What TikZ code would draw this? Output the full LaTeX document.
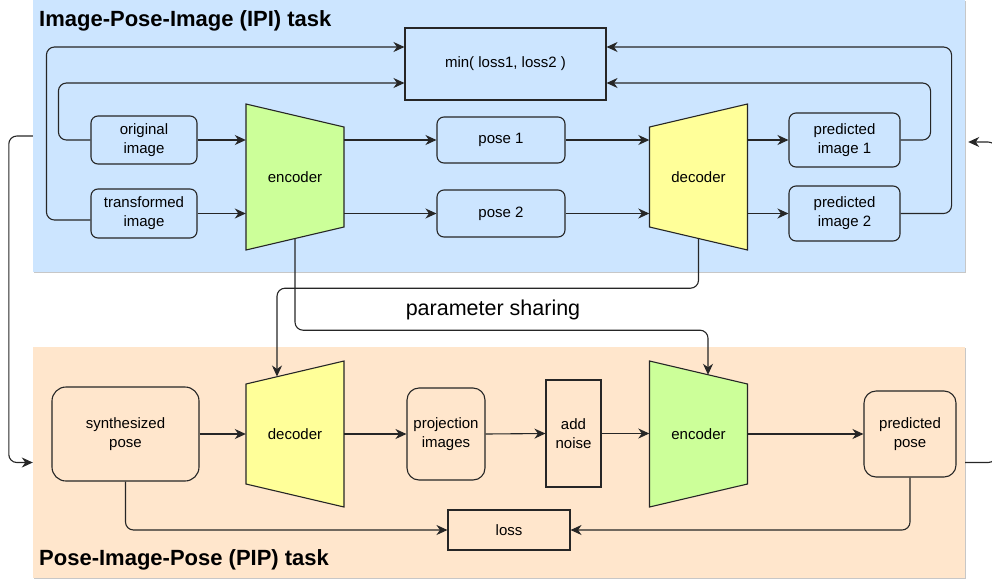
\documentclass[tikz,border=0pt]{standalone}
\usepackage{fontspec}
\setmainfont{Liberation Sans}
\usetikzlibrary{arrows.meta,calc,positioning,shadows}
\definecolor{ipiblue}{RGB}{204,229,255}
\definecolor{pippeach}{RGB}{255,230,204}
\definecolor{encgreen}{RGB}{204,255,153}
\definecolor{decyellow}{RGB}{255,255,153}
\newcommand\lblfont{\fontsize{15}{19}\selectfont}
\newcommand\titlefont{\fontsize{22}{26}\selectfont\bfseries}
\newcommand\sharefont{\fontsize{21.5}{25}\selectfont}

\begin{document}
\begin{tikzpicture}[x=1pt,y=-1pt,
  conn/.style={draw=black!85,line width=1.1pt,rounded corners=8pt,
    -{Stealth[length=11pt,width=10pt,inset=3.5pt]}},
  rbox/.style={draw=black!85,line width=1.1pt,rounded corners=7pt,
    align=center,font=\lblfont,inner sep=0pt},
  sbox/.style={rbox,sharp corners},
  trap/.style={align=center,font=\lblfont,inner sep=0pt,
    minimum width=98,minimum height=146},
  panel/.style={inner sep=0pt,
    drop shadow={shadow xshift=1.2pt,shadow yshift=-1.2pt,fill=black!22,opacity=1}},
  ]
  \useasboundingbox (0,0) rectangle (992,584);

  % the two task panels
  \node[panel,fill=ipiblue,minimum width=932,minimum height=272] (ipi) at (499,136) {};
  \node[panel,fill=pippeach,minimum width=932,minimum height=231] (pip) at (499,462.5) {};
  \node[anchor=west,inner sep=0pt,font=\titlefont] (ipititle) at (39,21) {Image-Pose-Image (IPI) task};
  \node[anchor=west,inner sep=0pt,font=\titlefont] (piptitle) at (39,560) {Pose-Image-Pose (PIP) task};

  % encoders and decoders
  \foreach \nm/\lbl/\col/\x/\y/\sl/\sr in
  {enc1/encoder/encgreen/295/177/0/23,dec1/decoder/decyellow/698.5/177/23/0,
   dec2/decoder/decyellow/295/434/23/0,enc2/encoder/encgreen/698.5/434/0/23}
  {
    \filldraw[draw=black!85,line width=1.1pt,fill=\col]
      ($(\x,\y)+(-49,{-73+\sl})$) -- ($(\x,\y)+(49,{-73+\sr})$)
      -- ($(\x,\y)+(49,{73-\sr})$) -- ($(\x,\y)+(-49,{73-\sl})$) -- cycle;
    \node[trap] (\nm) at (\x,\y) {\lbl};
  }

  % IPI boxes
  \foreach \nm/\x/\y/\w/\h/\txt in
  {orig/144/140/106/48/original\\image,trans/144/213.5/106/49/transformed\\image,
   pose1/501/140/128/46/pose 1,pose2/501/213.5/128/47/pose 2,
   pred1/844.5/140/111/54/predicted\\image 1,pred2/844.5/213.5/111/55/predicted\\image 2}
  {
    \node[rbox,minimum width=\w,minimum height=\h] (\nm) at (\x,\y) {\txt};
  }
  \node[sbox,minimum width=201,minimum height=72] (minloss) at (505.5,64) {min( loss1, loss2 )};

  % PIP boxes
  \node[rbox,rounded corners=14pt,minimum width=147,minimum height=94] (synth) at (125.5,434) {synthesized\\pose};
  \node[rbox,rounded corners=12pt,minimum width=78,minimum height=92] (proj) at (446,434) {projection\\images};
  \node[sbox,minimum width=55,minimum height=107] (noise) at (573.5,433.5) {add\\noise};
  \node[rbox,rounded corners=12pt,minimum width=92,minimum height=86] (ppose) at (910,434) {predicted\\pose};
  \node[sbox,minimum width=122,minimum height=40] (loss) at (509,530) {loss};

  % straight arrows
  \foreach \a/\b in {orig/enc1,trans/enc1,pose1/dec1,pose2/dec1,synth/dec2,noise/enc2}
    \draw[conn] (\a.east) -- (\a.east -| \b.west);
  \foreach \a/\b in {enc1/pose1,enc1/pose2,dec1/pred1,dec1/pred2,dec2/proj,enc2/ppose}
    \draw[conn] (\b.west -| \a.east) -- (\b.west);
  \draw[conn] (proj.east) -- (noise.west);

  % loss loops
  \draw[conn] ($(trans.west)+(0,6.5)$) -- ++(-44,0) |- ($(minloss.west)+(0,-17)$);
  \draw[conn] (orig.west) -- ++(-32,0) |- ($(minloss.west)+(0,19)$);
  \draw[conn] (pred1.east) -- ++(30,0) |- ($(minloss.east)+(0,19)$);
  \draw[conn] (pred2.east) -- ++(51,0) |- ($(minloss.east)+(0,-17)$);
  \draw[conn] (synth.south) |- (loss.west);
  \draw[conn] (ppose.south) |- (loss.east);

  % parameter sharing
  \draw[conn] ($(enc1.south)+(0,-12)$) -- ++(0,92) -| ($(enc2.north)+(9.5,14)$);
  \draw[conn] ($(dec1.south)+(0,-12)$) -- ++(0,50) -| ($(dec2.north)+(-18,15.7)$);
  \node[font=\sharefont] (sharelbl) at (493,310) {parameter sharing};

  % between the tasks
  \draw[conn] (ipi.west) -- ++(-24,0) |- (pip.west);
  \draw[conn] (pip.east) -- ++(31,0) |- ($(ipi.east)+(3,6)$);
\end{tikzpicture}
\end{document}
